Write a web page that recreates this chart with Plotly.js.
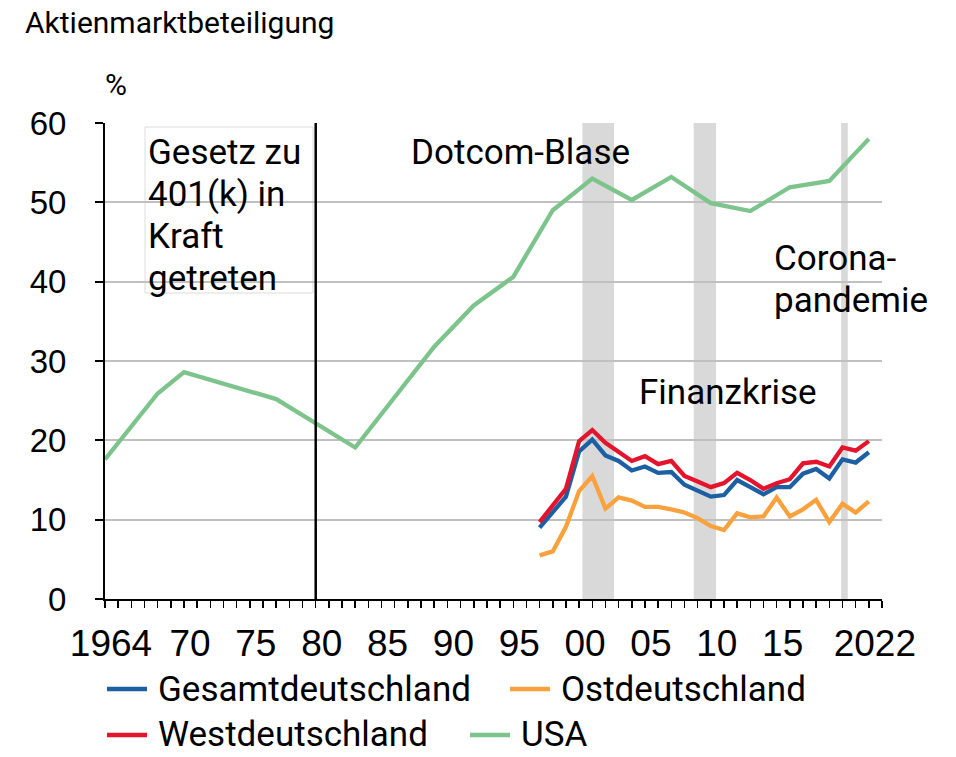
<!DOCTYPE html>
<html>
<head>
<meta charset="utf-8">
<script src="https://cdn.plot.ly/plotly-3.0.1.min.js"></script>
<style>html,body{margin:0;padding:0;background:#fff;}#chart{width:956px;height:757px;}</style>
</head>
<body>
<div id="chart"></div>
<script>
// ---- data ----
const usaYears  = [1964, 1968, 1970, 1977, 1983, 1989, 1992, 1995, 1998, 2001, 2004, 2007, 2010, 2013, 2016, 2019, 2022];
const usaValues = [17.6, 25.9, 28.6, 25.2, 19.1, 31.8, 37.0, 40.6, 49.0, 53.0, 50.3, 53.2, 49.9, 48.9, 51.9, 52.7, 58.0];

const deYears = [1997, 1998, 1999, 2000, 2001, 2002, 2003, 2004, 2005, 2006, 2007, 2008, 2009,
                 2010, 2011, 2012, 2013, 2014, 2015, 2016, 2017, 2018, 2019, 2020, 2021, 2022];
const gesamtValues = [9.0, 10.9, 12.9, 18.6, 20.1, 18.1, 17.4, 16.2, 16.7, 15.9, 16.0, 14.4, 13.6,
                      12.9, 13.1, 15.0, 14.1, 13.2, 14.1, 14.1, 15.8, 16.4, 15.2, 17.6, 17.2, 18.5];
const ostValues    = [5.5, 6.0, 9.1, 13.6, 15.5, 11.4, 12.8, 12.4, 11.6, 11.6, 11.3, 10.9, 10.2,
                      9.2, 8.7, 10.8, 10.3, 10.4, 12.8, 10.4, 11.3, 12.5, 9.7, 12.0, 10.9, 12.3];
const westValues   = [9.7, 11.8, 13.9, 19.9, 21.3, 19.7, 18.6, 17.4, 18.0, 17.0, 17.4, 15.5, 14.8,
                      14.1, 14.6, 15.9, 15.0, 13.9, 14.6, 15.1, 17.1, 17.3, 16.7, 19.1, 18.7, 19.9];

const seriesNames = ['Gesamtdeutschland', 'Ostdeutschland', 'Westdeutschland', 'USA'];

const crisisStart = [2000.25, 2008.7, 2019.9];
const crisisEnd   = [2002.65, 2010.4, 2020.4];
const lawYear = 1980;

const tickLabelYears = [1964, 1970, 1975, 1980, 1985, 1990, 1995, 2000, 2005, 2010, 2015, 2022];
const tickLabelTexts = ['1964', '70', '75', '80', '85', '90', '95', '00', '05', '10', '15', '2022'];

const lawLines = ['Gesetz zu', '401(k) in', 'Kraft', 'getreten'];
const coronaLines = ['Corona-', 'pandemie'];

// ---- layout helpers ----
const W = 956, H = 757;
const L = 105, R = 882, T = 123, B = 599;
const px = x => (x - L) / (R - L);
const py = y => (B - y) / (B - T);

const colors = {
  'Gesamtdeutschland': '#1c5fa3',
  'Ostdeutschland': '#f9a13c',
  'Westdeutschland': '#e3142b',
  'USA': '#7cc48b'
};

const textFont = 'Roboto, "Noto Sans", sans-serif';
const tickFont = '"Liberation Sans", Arial, sans-serif';
const annSize = 35;

const allTicks = [];
for (let y = 1964; y <= 2023; y++) allTicks.push(y);
const allTickTexts = allTicks.map(y => {
  const i = tickLabelYears.indexOf(y);
  return i >= 0 ? tickLabelTexts[i] : '';
});

const mk = (name, xs, ys) => ({
  type: 'scatter', mode: 'lines', name: name, x: xs, y: ys,
  line: {color: colors[name], width: 4.3}, showlegend: false, hoverinfo: 'x+y'
});

const data = [
  mk('Gesamtdeutschland', deYears, gesamtValues),
  mk('Ostdeutschland', deYears, ostValues),
  mk('Westdeutschland', deYears, westValues),
  mk('USA', usaYears, usaValues)
];

const shapes = [];
for (let i = 0; i < crisisStart.length; i++) {
  shapes.push({type: 'rect', xref: 'x', yref: 'y', x0: crisisStart[i], x1: crisisEnd[i], y0: 0, y1: 60,
    fillcolor: '#d9d9d9', line: {width: 0}, layer: 'below'});
}
// white text box for the 401(k) note
shapes.push({type: 'rect', xref: 'paper', yref: 'paper', x0: px(145), x1: px(313), y0: py(293), y1: py(127),
  fillcolor: '#fff', line: {color: '#dcdcdc', width: 1}, layer: 'below'});
shapes.push({type: 'line', xref: 'x', yref: 'y', x0: lawYear, x1: lawYear, y0: 0, y1: 60,
  line: {color: '#000', width: 2.5}, layer: 'above'});

const ann = (text, x, y, size) => ({text: text, xref: 'paper', yref: 'paper', x: px(x), y: py(y),
  xanchor: 'left', yanchor: 'middle', showarrow: false, font: {family: textFont, size: size || annSize, color: '#000'}});

const annotations = [
  {text: '%', xref: 'paper', yref: 'paper', x: px(116), y: py(84), xanchor: 'center', yanchor: 'middle',
   showarrow: false, font: {family: textFont, size: 30, color: '#000'}},
  ann('Dotcom-Blase', 409, 152),
  ann('Finanzkrise', 637, 392)
];
lawLines.forEach((t, i) => annotations.push(ann(t, 146, 152 + 42 * i)));
coronaLines.forEach((t, i) => annotations.push(ann(t, 772, 258 + 42 * i)));

// manual legend (two rows, flowing like the original)
const legendPos = [
  {x: 107, y: 689}, {x: 510, y: 689},
  {x: 107, y: 735}, {x: 470, y: 735}
];
seriesNames.forEach((name, i) => {
  const p = legendPos[i];
  shapes.push({type: 'line', xref: 'paper', yref: 'paper', x0: px(p.x), x1: px(p.x + 40), y0: py(p.y), y1: py(p.y),
    line: {color: colors[name], width: 4.3}});
  annotations.push(ann(name, p.x + 49, p.y, 35));
});

const layout = {
  width: W, height: H,
  margin: {l: L, r: W - R, t: T, b: H - B, pad: 0},
  paper_bgcolor: '#fff', plot_bgcolor: '#fff',
  showlegend: false,
  title: {text: 'Aktienmarktbeteiligung', x: 25 / W, xref: 'container', xanchor: 'left',
          y: 1 - 22 / H, yref: 'container', yanchor: 'middle',
          font: {family: textFont, size: 30, color: '#000'}},
  xaxis: {
    range: [1964, 2023], tickmode: 'array', tickvals: allTicks, ticktext: allTickTexts,
    ticks: 'outside', ticklen: 7, tickwidth: 1.5, tickcolor: '#000',
    ticklabelshift: 6, ticklabelstandoff: 4,
    showline: true, linecolor: '#000', linewidth: 2, showgrid: false, zeroline: false,
    tickfont: {family: tickFont, size: 37, color: '#000'}, fixedrange: true
  },
  yaxis: {
    range: [0, 60], tickmode: 'array', tickvals: [0, 10, 20, 30, 40, 50, 60],
    ticks: 'outside', ticklen: 8, tickwidth: 2, tickcolor: '#000', ticklabelstandoff: 22,
    showline: true, linecolor: '#000', linewidth: 2,
    showgrid: true, gridcolor: '#c0c0c0', gridwidth: 2, zeroline: false,
    tickfont: {family: tickFont, size: 33, color: '#000'}, fixedrange: true
  },
  shapes: shapes,
  annotations: annotations
};

Plotly.newPlot('chart', data, layout, {displayModeBar: false, staticPlot: true});
</script>
</body>
</html>
